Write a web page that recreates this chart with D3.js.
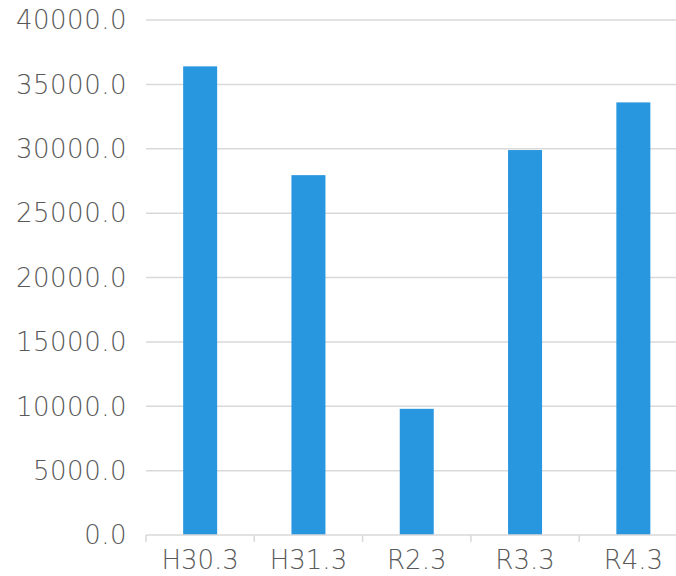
<!DOCTYPE html>
<html>
<head>
<meta charset="utf-8">
<script src="https://cdn.jsdelivr.net/npm/d3@7"></script>
<style>
  body { margin: 0; background: #fff; }
  svg { display: block; }
</style>
</head>
<body>
<svg id="chart"></svg>
<script>
const categories = ['H30.3', 'H31.3', 'R2.3', 'R3.3', 'R4.3'];
const values = [36400, 27950, 9800, 29900, 33600];
const yTicks = [0, 5000, 10000, 15000, 20000, 25000, 30000, 35000, 40000];

const W = 676, H = 576;
const plotLeft = 146, plotRight = 687.5, plotTop = 20, plotBottom = 535;

const svg = d3.select('#chart')
    .attr('width', W)
    .attr('height', H);

const x = d3.scaleBand()
    .domain(categories)
    .range([plotLeft, plotRight])
    .paddingInner(0.686)
    .paddingOuter(0.343);

const y = d3.scaleLinear()
    .domain([0, 40000])
    .range([plotBottom, plotTop]);

const font = '"DejaVu Sans", sans-serif';

// gridlines
svg.append('g')
    .selectAll('line')
    .data(yTicks.filter(d => d > 0))
    .join('line')
        .attr('x1', plotLeft)
        .attr('x2', plotRight)
        .attr('y1', d => y(d))
        .attr('y2', d => y(d))
        .attr('stroke', '#d9d9d9')
        .attr('stroke-width', 1.5);

// y labels
svg.append('g')
    .selectAll('text')
    .data(yTicks)
    .join('text')
        .attr('x', 127)
        .attr('y', d => y(d))
        .attr('dy', '0.36em')
        .attr('text-anchor', 'end')
        .style('font-family', font)
        .style('font-size', '26px')
        .style('font-weight', 200)
        .style('letter-spacing', '0.5px')
        .attr('fill', '#595959')
        .text(d => d3.format('.1f')(d));

// bars
svg.append('g')
    .selectAll('rect')
    .data(values)
    .join('rect')
        .attr('x', (v, i) => x(categories[i]))
        .attr('y', v => y(v))
        .attr('width', x.bandwidth())
        .attr('height', v => y(0) - y(v))
        .attr('fill', '#2997e0');

// x axis
const xAxis = d3.axisBottom(x).tickSize(0).tickPadding(0);
const gx = svg.append('g')
    .attr('transform', `translate(0, ${plotBottom})`)
    .call(xAxis);
gx.select('.domain').remove();
gx.append('line')
    .attr('x1', plotLeft).attr('x2', plotRight)
    .attr('stroke', '#d9d9d9').attr('stroke-width', 1.5);
gx.selectAll('.edge')
    .data(d3.range(categories.length + 1))
    .join('line')
        .attr('class', 'edge')
        .attr('x1', i => plotLeft + i * x.step())
        .attr('x2', i => plotLeft + i * x.step())
        .attr('y1', 0).attr('y2', 7)
        .attr('stroke', '#d9d9d9').attr('stroke-width', 1.5);
gx.selectAll('.tick text')
    .attr('y', 34)
    .attr('dy', 0)
    .style('font-family', font)
    .style('font-size', '26px')
    .style('font-weight', 200)
    .attr('fill', '#595959');
</script>
</body>
</html>
